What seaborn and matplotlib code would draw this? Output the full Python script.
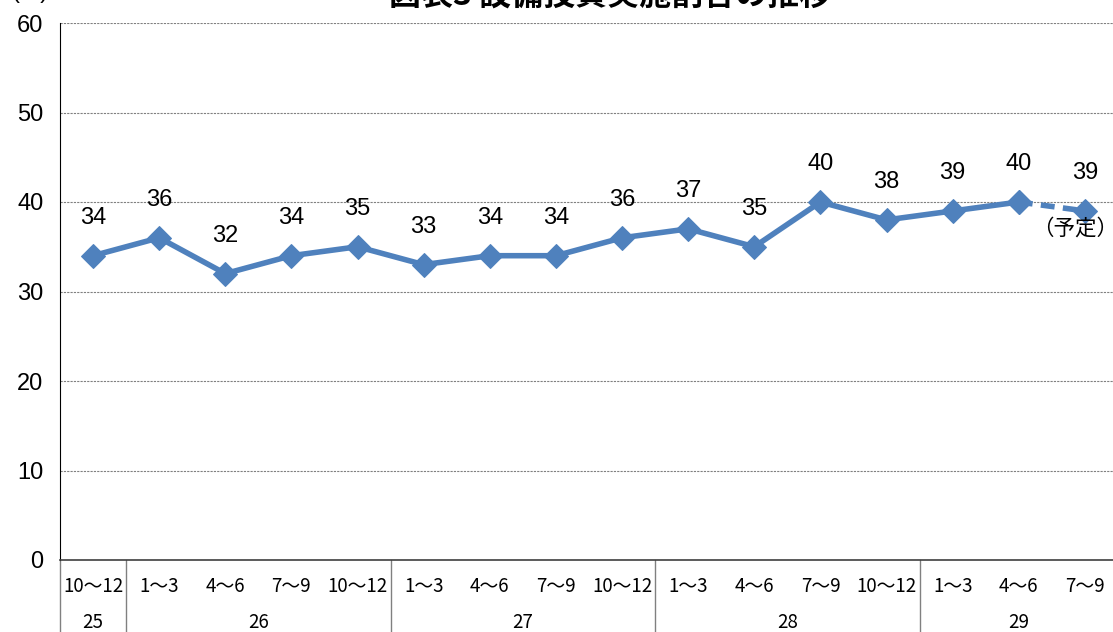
import matplotlib
matplotlib.use("Agg")
import matplotlib.pyplot as plt
import matplotlib.transforms as mtransforms
import seaborn as sns
import pandas as pd

# data
quarters = ["10～12", "1～3", "4～6", "7～9", "10～12", "1～3", "4～6", "7～9",
            "10～12", "1～3", "4～6", "7～9", "10～12", "1～3", "4～6", "7～9"]
years = ["25", "26", "27", "28", "29"]
year_spans = [(0, 0), (1, 4), (5, 8), (9, 12), (13, 15)]
values = [34, 36, 32, 34, 35, 33, 34, 34, 36, 37, 35, 40, 38, 39, 40, 39]
planned_from = 14  # last segment is the planned value (dashed)

df = pd.DataFrame({"pos": range(len(values)), "value": values})

sns.set_style("white")
plt.rcParams["font.family"] = ["Liberation Sans", "Noto Sans CJK JP", "DejaVu Sans"]
plt.rcParams["text.color"] = "black"
plt.rcParams["ytick.color"] = "black"
plt.rcParams["ytick.labelcolor"] = "black"
cjk = ["Noto Sans CJK JP", "DejaVu Sans"]

fig = plt.figure(figsize=(11.13, 6.32), dpi=100)
ax = fig.add_axes([60 / 1113, 1 - 560 / 632, 1058 / 1113, 537 / 632])

blue = "#4F81BD"
sns.lineplot(data=df.iloc[:planned_from + 1], x="pos", y="value", ax=ax,
             color=blue, linewidth=4, marker="D", markersize=12,
             markeredgecolor=blue)
sns.lineplot(data=df.iloc[planned_from:], x="pos", y="value", ax=ax,
             color=blue, linewidth=4, linestyle=(0, (2.5, 1.5)), marker="D",
             markersize=12, markeredgecolor=blue)

for x, v in zip(df["pos"], df["value"]):
    ax.annotate(str(v), (x, v), xytext=(0, 27), textcoords="offset points",
                ha="center", va="center", fontsize=17)
ax.annotate("（予定）", (len(values) - 1, values[-1]), xytext=(-7, -13),
            textcoords="offset points", ha="center", va="center",
            fontsize=15.5, family=cjk)

ax.set_xlim(-0.5, len(values) - 0.5)
ax.set_ylim(0, 60)
ax.set_yticks(range(0, 61, 10))
ax.tick_params(axis="y", labelsize=17, length=0, pad=12)
ax.set_xticks([])
ax.set_xlabel("")
ax.set_ylabel("")
ax.yaxis.grid(True, color="#808080", linestyle=(0, (2, 1)), linewidth=0.8)

for side in ["top", "right"]:
    ax.spines[side].set_visible(False)
ax.spines["left"].set_color("black")
ax.spines["bottom"].set_color("#404040")
ax.spines["bottom"].set_linewidth(1.2)

# two-level category axis
trans = mtransforms.blended_transform_factory(ax.transData, ax.transAxes)
for i, q in enumerate(quarters):
    ax.text(i, -27 / 537, q, transform=trans, ha="center", va="center",
            fontsize=13.5, family=cjk)
for y, (a, b) in zip(years, year_spans):
    ax.text((a + b) / 2, -63 / 537, y, transform=trans, ha="center",
            va="center", fontsize=13.5, family=cjk)
    ax.plot([a - 0.5, a - 0.5], [0, -0.2], transform=trans, clip_on=False,
            color="#808080", linewidth=1)

fig.text(610 / 1113, 1 + 4 / 632, "図表3 設備投資実施割合の推移",
         ha="center", va="center", fontsize=23, fontweight="bold", family=cjk)
fig.text(30 / 1113, 1 + 8 / 632, "(%)", ha="center", va="center", fontsize=17)

fig.savefig("out.png", dpi=100)
